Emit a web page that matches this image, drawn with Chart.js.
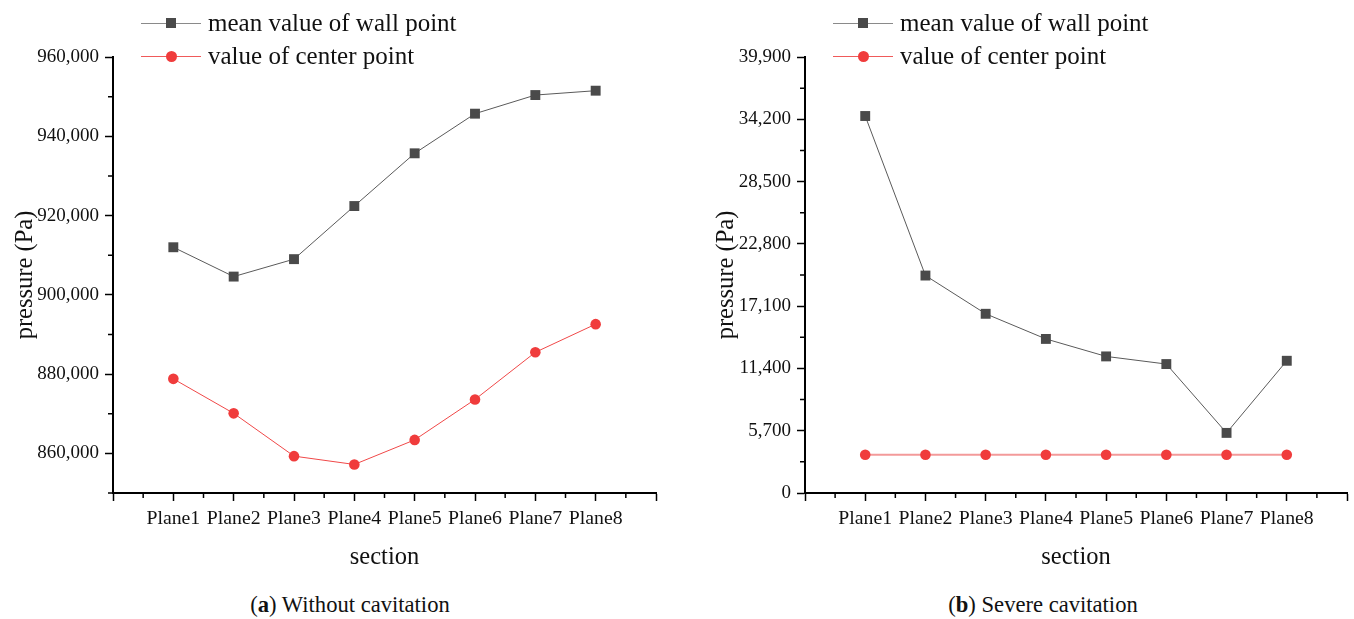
<!DOCTYPE html>
<html>
<head>
<meta charset="utf-8">
<script src="https://cdn.jsdelivr.net/npm/chart.js@4.4.1/dist/chart.umd.min.js"></script>
<style>
  body { margin: 0; width: 1354px; height: 619px; position: relative; background: #fff; overflow: hidden;
         font-family: 'Liberation Serif', 'Times New Roman', serif; color: #111; }
  .panel { position: absolute; top: 0; width: 677px; height: 619px; }
  .panel canvas { position: absolute; left: 0; top: 0; }
  .row { position: absolute; height: 30px; display: flex; align-items: center; white-space: nowrap; font-size: 25px; }
  .sym { position: relative; width: 60px; height: 30px; margin-right: 7px; }
  .sym .ln { position: absolute; left: 0; right: 0; top: 14.5px; height: 1.5px; }
  .sym .sq { position: absolute; left: 25px; top: 10px; width: 10px; height: 10px; background: #4a4a4a; }
  .sym .dot { position: absolute; left: 24.5px; top: 9.5px; width: 11px; height: 11px; border-radius: 50%; background: #f03c3c; }
  .caption { position: absolute; top: 590px; height: 30px; line-height: 30px; font-size: 22.6px; text-align: center; width: 400px; }
</style>
</head>
<body>

<div class="panel" style="left:0">
  <canvas id="chartA" width="677" height="590"></canvas>
  <div class="row" style="left:141px; top:8px"><div class="sym"><div class="ln" style="background:#8a8a8a"></div><div class="sq"></div></div>mean value of wall point</div>
  <div class="row" style="left:141px; top:41px"><div class="sym"><div class="ln" style="background:#f05a5a;height:1px"></div><div class="dot"></div></div>value of center point</div>
  <div class="caption" style="left:150px">(<b>a</b>) Without cavitation</div>
</div>

<div class="panel" style="left:677px">
  <canvas id="chartB" width="677" height="590"></canvas>
  <div class="row" style="left:156px; top:8px"><div class="sym"><div class="ln" style="background:#8a8a8a"></div><div class="sq"></div></div>mean value of wall point</div>
  <div class="row" style="left:156px; top:41px"><div class="sym"><div class="ln" style="background:#f05a5a;height:1px"></div><div class="dot"></div></div>value of center point</div>
  <div class="caption" style="left:166px">(<b>b</b>) Severe cavitation</div>
</div>

<script>
// Sections along the pipe
const categories = ['Plane1', 'Plane2', 'Plane3', 'Plane4', 'Plane5', 'Plane6', 'Plane7', 'Plane8'];

// (a) Without cavitation, pressure in Pa
const wallNoCavitation   = [912000, 904600, 909000, 922400, 935700, 945700, 950400, 951500];
const centerNoCavitation = [878800, 870100, 859300, 857200, 863400, 873600, 885500, 892600];

// (b) Severe cavitation, pressure in Pa
const wallSevere   = [34500, 19900, 16400, 14100, 12500, 11800, 5500, 12100];
const centerSevere = [3500, 3500, 3500, 3500, 3500, 3500, 3500, 3500];

// Axis ticks
const xMajorTicks = [0, 1, 2, 3, 4, 5, 6, 7, 8, 9];
const xMinorTicks = [0.5, 1.5, 2.5, 3.5, 4.5, 5.5, 6.5, 7.5, 8.5];
const yMajorTicksA = [860000, 880000, 900000, 920000, 940000, 960000];
const yMinorTicksA = [850000, 870000, 890000, 910000, 930000, 950000];
const yMajorTicksB = [0, 5700, 11400, 17100, 22800, 28500, 34200, 39900];
const yMinorTicksB = [2850, 8550, 14250, 19950, 25650, 31350, 37050];

const FONT = "'Liberation Serif', 'Times New Roman', serif";

// Short outward ticks between the labelled ones
const minorTicksPlugin = {
  id: 'minorTicks',
  afterDraw(chart, args, opts) {
    const { ctx } = chart;
    const xs = chart.scales.x, ys = chart.scales.y;
    ctx.save();
    ctx.strokeStyle = '#000';
    ctx.lineWidth = 1.5;
    ctx.beginPath();
    (opts.x || []).forEach(v => {
      const px = xs.getPixelForValue(v);
      ctx.moveTo(px, xs.top); ctx.lineTo(px, xs.top + 5);
    });
    (opts.y || []).forEach(v => {
      const py = ys.getPixelForValue(v);
      ctx.moveTo(ys.right, py); ctx.lineTo(ys.right - 5, py);
    });
    ctx.stroke();
    ctx.restore();
  }
};

function toPoints(values) {
  return values.map((v, i) => ({ x: i + 1, y: v }));
}

function makeChart(id, cfg) {
  return new Chart(document.getElementById(id), {
    type: 'line',
    data: {
      datasets: [
        {
          label: 'mean value of wall point',
          data: toPoints(cfg.wall),
          borderColor: '#5a5a5a',
          borderWidth: 1,
          pointStyle: 'rect',
          pointRadius: 7,
          pointBackgroundColor: '#4a4a4a',
          pointBorderColor: '#4a4a4a',
          pointBorderWidth: 0,
          tension: 0
        },
        {
          label: 'value of center point',
          data: toPoints(cfg.center),
          borderColor: cfg.centerLine,
          borderWidth: cfg.centerLineWidth,
          pointStyle: 'circle',
          pointRadius: 5.3,
          pointBackgroundColor: '#f03c3c',
          pointBorderColor: '#f03c3c',
          pointBorderWidth: 0,
          tension: 0
        }
      ]
    },
    options: {
      responsive: false,
      animation: false,
      layout: { padding: cfg.padding },
      plugins: {
        legend: { display: false },
        tooltip: { enabled: false },
        minorTicks: { x: xMinorTicks, y: cfg.yMinor }
      },
      scales: {
        x: {
          type: 'linear',
          min: 0, max: 9,
          afterBuildTicks: s => { s.ticks = xMajorTicks.map(v => ({ value: v })); },
          afterFit: s => { s.height = 97; },
          border: { display: true, color: '#000', width: 2 },
          grid: { drawOnChartArea: false, drawTicks: true, tickLength: 8, tickColor: '#000', tickWidth: 1.5 },
          ticks: {
            padding: 6,
            maxRotation: 0,
            autoSkip: false,
            color: '#111',
            font: { family: FONT, size: 19.8 },
            callback: v => categories[v - 1] || ''
          },
          title: {
            display: true, text: 'section', color: '#111',
            font: { family: FONT, size: 24.5 },
            padding: { top: 0, bottom: 18 }
          }
        },
        y: {
          type: 'linear',
          min: cfg.yMin, max: cfg.yMax,
          afterBuildTicks: s => { s.ticks = cfg.yMajor.map(v => ({ value: v })); },
          afterFit: s => { s.width = cfg.yWidth; },
          border: { display: true, color: '#000', width: 2 },
          grid: { drawOnChartArea: false, drawTicks: true, tickLength: 8, tickColor: '#000', tickWidth: 1.5 },
          ticks: {
            padding: 6,
            autoSkip: false,
            color: '#111',
            font: { family: FONT, size: 19 },
            callback: v => v.toLocaleString('en-US')
          },
          title: {
            display: true, text: 'pressure (Pa)', color: '#111',
            font: { family: FONT, size: 24.5 },
            padding: { top: 10.4, bottom: 0 }
          }
        }
      }
    },
    plugins: [minorTicksPlugin]
  });
}

makeChart('chartA', {
  wall: wallNoCavitation,
  center: centerNoCavitation,
  centerLine: '#f04848',
  centerLineWidth: 1,
  yMin: 850000, yMax: 960000,
  yMajor: yMajorTicksA, yMinor: yMinorTicksA,
  yWidth: 113,
  padding: { left: 0, top: 57, right: 21, bottom: 0 }
});

makeChart('chartB', {
  wall: wallSevere,
  center: centerSevere,
  centerLine: '#f39a9a',
  centerLineWidth: 2,
  yMin: 0, yMax: 39900,
  yMajor: yMajorTicksB, yMinor: yMinorTicksB,
  yWidth: 104,
  padding: { left: 24, top: 57, right: 6, bottom: 0 }
});
</script>
</body>
</html>
